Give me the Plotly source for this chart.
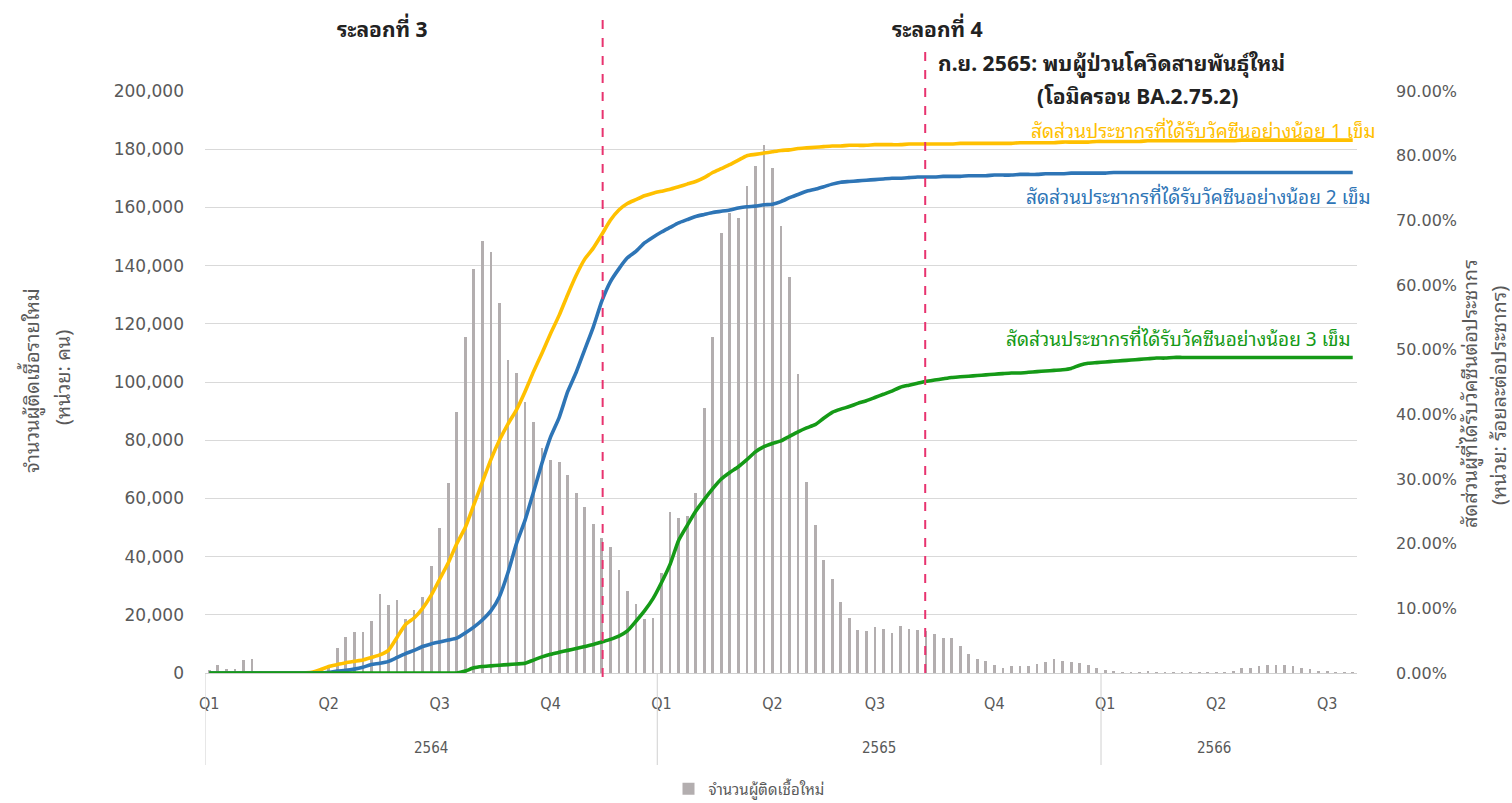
import plotly.graph_objects as go

# ---------------- data ----------------
# weekly new cases (thousands), week index 0 = first week of 2564
new_cases_k = [
    0.9, 2.6, 1.4, 1.4, 4.5, 4.8, 0.4, 0.2, 0.1, 0.1, 0.2, 0.2, 0.4, 0.8, 2.0,
    8.7, 12.5, 14.0, 14.2, 17.9, 27.0, 23.4, 25.0, 18.4, 21.6, 26.2, 36.9, 49.7,
    65.2, 89.8, 115.4, 139.0, 148.6, 144.8, 127.3, 107.6, 103.2, 93.2, 86.3, 77.2,
    73.2, 72.6, 68.0, 62.0, 57.0, 51.2, 46.3, 43.4, 35.3, 28.3, 23.7, 18.7, 18.8,
    34.4, 55.5, 53.2, 54.0, 62.0, 91.1, 115.6, 151.3, 158.0, 156.5, 167.5, 174.3,
    181.4, 173.4, 153.7, 136.0, 102.9, 65.7, 51.0, 39.0, 32.2, 24.4, 18.8, 14.8,
    14.5, 15.7, 15.1, 13.9, 16.3, 15.0, 14.9, 14.6, 13.3, 12.1, 12.0, 9.3, 6.4,
    4.7, 4.1, 2.7, 1.8, 2.4, 2.3, 2.5, 3.1, 3.9, 4.7, 4.1, 3.8, 3.3, 2.6, 1.8,
    0.9, 0.8, 0.2, 0.2, 0.1, 0.4, 0.1, 0.1, 0.1, 0.1, 0.1, 0.1, 0.1, 0.1, 0.1,
    0.8, 1.8, 1.6, 2.3, 2.6, 2.7, 2.7, 2.5, 1.8, 1.4, 0.8, 0.7, 0.3, 0.3, 0.3,
]

# % of population vaccinated (at least 1 / 2 / 3 doses)
dose1_pct = [
    0, 0, 0, 0, 0, 0, 0, 0, 0, 0, 0, 0, 0.1, 0.5, 1.0,
    1.3, 1.6, 1.8, 2.0, 2.4, 2.8, 3.5, 5.5, 7.5, 8.5, 10.0, 12.0, 14.5,
    17.0, 20.0, 22.5, 26.0, 29.5, 33.0, 36.0, 38.5, 40.7, 43.5, 46.6, 49.5,
    52.5, 55.3, 58.5, 61.5, 64.0, 65.7, 67.8, 70.0, 71.6, 72.6, 73.2, 73.8, 74.2,
    74.5, 74.8, 75.2, 75.6, 76.0, 76.6, 77.4, 78.0, 78.6, 79.3, 80.0, 80.2,
    80.4, 80.6, 80.8, 80.9, 81.1, 81.2, 81.3, 81.4, 81.5, 81.5, 81.6, 81.6,
    81.6, 81.7, 81.7, 81.7, 81.7, 81.8, 81.8, 81.8, 81.8, 81.8, 81.8, 81.9, 81.9,
    81.9, 81.9, 81.9, 81.9, 81.9, 82.0, 82.0, 82.0, 82.0, 82.0, 82.1, 82.1, 82.1,
    82.1, 82.2, 82.2, 82.2, 82.2, 82.2, 82.2, 82.3, 82.3, 82.3, 82.3, 82.3, 82.3,
    82.3, 82.3, 82.3, 82.3, 82.3, 82.4, 82.4, 82.4, 82.4, 82.4, 82.4, 82.4, 82.4,
    82.4, 82.4, 82.4, 82.4, 82.4, 82.4,
]
dose2_pct = [
    0, 0, 0, 0, 0, 0, 0, 0, 0, 0, 0, 0, 0, 0, 0.1,
    0.3, 0.4, 0.6, 0.9, 1.3, 1.5, 1.8, 2.4, 3.0, 3.5, 4.1, 4.5, 4.8,
    5.1, 5.4, 6.2, 7.1, 8.2, 9.6, 11.8, 15.5, 20.0, 23.6, 28.0, 32.5,
    36.5, 39.5, 43.5, 46.5, 50.0, 53.5, 57.5, 60.5, 62.5, 64.2, 65.2, 66.5, 67.4,
    68.2, 68.9, 69.6, 70.1, 70.6, 70.9, 71.2, 71.4, 71.6, 71.9, 72.1, 72.2,
    72.4, 72.5, 72.9, 73.5, 74.0, 74.5, 74.8, 75.2, 75.6, 75.9, 76.0, 76.1,
    76.2, 76.3, 76.4, 76.5, 76.5, 76.6, 76.7, 76.7, 76.7, 76.8, 76.8, 76.8, 76.9,
    76.9, 76.9, 77.0, 77.0, 77.0, 77.1, 77.1, 77.1, 77.2, 77.2, 77.2, 77.3, 77.3,
    77.3, 77.3, 77.3, 77.4, 77.4, 77.4, 77.4, 77.4, 77.4, 77.4, 77.4, 77.4, 77.4,
    77.4, 77.4, 77.4, 77.4, 77.4, 77.4, 77.4, 77.4, 77.4, 77.4, 77.4, 77.4, 77.4,
    77.4, 77.4, 77.4, 77.4, 77.4, 77.4,
]
dose3_pct = [
    0, 0, 0, 0, 0, 0, 0, 0, 0, 0, 0, 0, 0, 0, 0,
    0, 0, 0, 0, 0, 0, 0, 0, 0, 0, 0, 0, 0,
    0, 0, 0.3, 0.8, 1.0, 1.1, 1.2, 1.3, 1.4, 1.5, 2.0, 2.5,
    2.9, 3.2, 3.5, 3.8, 4.1, 4.4, 4.8, 5.2, 5.7, 6.5, 8.0, 9.6, 11.5,
    14.0, 16.8, 20.5, 22.8, 25.0, 26.8, 28.5, 30.0, 31.0, 31.9, 33.0, 34.2,
    35.0, 35.5, 35.9, 36.6, 37.3, 37.9, 38.4, 39.4, 40.3, 40.8, 41.2, 41.7,
    42.1, 42.6, 43.1, 43.6, 44.2, 44.5, 44.8, 45.1, 45.3, 45.5, 45.7, 45.8, 45.9,
    46.0, 46.1, 46.2, 46.3, 46.4, 46.4, 46.5, 46.6, 46.7, 46.8, 46.9, 47.1, 47.6,
    47.9, 48.0, 48.1, 48.2, 48.3, 48.4, 48.5, 48.6, 48.7, 48.7, 48.8, 48.8, 48.8,
    48.8, 48.8, 48.8, 48.8, 48.8, 48.8, 48.8, 48.8, 48.8, 48.8, 48.8, 48.8, 48.8,
    48.8, 48.8, 48.8, 48.8, 48.8, 48.8,
]

quarter_labels = ["Q1", "Q2", "Q3", "Q4", "Q1", "Q2", "Q3", "Q4", "Q1", "Q2", "Q3"]
quarter_weeks = [0, 14, 27, 40, 53, 66, 78, 92, 105, 118, 131]
year_labels = ["2564", "2565", "2566"]
year_centers = [26, 78.5, 117.7]
year_bounds = [-0.5, 52.5, 104.5]

wave_lines = [46.1, 83.9]  # week index of the dashed event lines

pct_ticks = list(range(0, 91, 10))
pct_tick_text = ["%.2f%%" % v for v in pct_ticks]
case_ticks = list(range(0, 200001, 20000))

series_names = [
    "จำนวนผู้ติดเชื้อใหม่",
    "สัดส่วนประชากรที่ได้รับวัคซีนอย่างน้อย 1 เข็ม",
    "สัดส่วนประชากรที่ได้รับวัคซีนอย่างน้อย 2 เข็ม",
    "สัดส่วนประชากรที่ได้รับวัคซีนอย่างน้อย 3 เข็ม",
]

# ---------------- figure ----------------
weeks = list(range(len(new_cases_k)))
cases = [v * 1000 for v in new_cases_k]

THAI = ("Tahoma, Leelawadee UI, Noto Sans Thai Looped, Loma, Garuda, "
        "Noto Sans Thai, DejaVu Sans, sans-serif")
GREY_TXT = "#595959"
YEL, BLU, GRN = "#FFC000", "#2E75B6", "#159A17"
PINK = "#E8336F"

W, H = 1512, 803
ML, MR, MT, MB = 205, 155, 91, 130
PW, PH = W - ML - MR, H - MT - MB


def px_to_paper(px, py):
    return (px - ML) / PW, (H - MB - py) / PH


fig = go.Figure()
fig.add_trace(go.Bar(
    x=weeks, y=cases, name=series_names[0], width=0.32,
    marker=dict(color="#B3AEAF", line=dict(width=0)),
    yaxis="y",
))
for vals, col, nm in [(dose1_pct, YEL, series_names[1]),
                      (dose2_pct, BLU, series_names[2]),
                      (dose3_pct, GRN, series_names[3])]:
    fig.add_trace(go.Scatter(
        x=weeks, y=vals, name=nm, mode="lines", yaxis="y2", showlegend=False,
        line=dict(color=col, width=3.6, shape="spline", smoothing=0.5),
    ))

shapes = []
for xb in year_bounds:
    shapes.append(dict(type="line", xref="x", yref="paper", x0=xb, x1=xb,
                       y0=0, y1=px_to_paper(0, 765)[1], line=dict(color="#D0D0D0", width=1)))
shapes.append(dict(type="line", xref="x", yref="paper", x0=wave_lines[0], x1=wave_lines[0],
                   y0=px_to_paper(0, 677)[1], y1=px_to_paper(0, 15)[1],
                   line=dict(color=PINK, width=2, dash="dash")))
shapes.append(dict(type="line", xref="x", yref="paper", x0=wave_lines[1], x1=wave_lines[1],
                   y0=0.0, y1=px_to_paper(0, 50)[1],
                   line=dict(color=PINK, width=2, dash="dash")))

ann = []
for lab, xc in zip(year_labels, year_centers):
    ann.append(dict(x=xc, y=px_to_paper(0, 748)[1], xref="x", yref="paper", text=lab,
                    showarrow=False, yanchor="middle",
                    font=dict(family="DejaVu Sans Condensed, sans-serif", size=15, color=GREY_TXT)))

text_items = [
    ("<b>ระลอกที่ 3</b>", 382, 28, "center", 21, "#222222"),
    ("<b>ระลอกที่ 4</b>", 937, 28, "center", 21, "#222222"),
    ("<b>ก.ย. 2565: พบผู้ป่วนโควิดสายพันธุ์ใหม่</b>", 936, 62, "left", 21, "#222222"),
    ("<b>(โอมิครอน BA.2.75.2)</b>", 1137, 95, "center", 21, "#222222"),
    (series_names[1], 1378, 129, "right", 19, YEL),
    (series_names[2], 1373, 195, "right", 19, BLU),
    (series_names[3], 1353, 337, "right", 19, GRN),
]
for t, px, py, al, sz, col in text_items:
    xp, yp = px_to_paper(px, py)
    ann.append(dict(x=xp, y=yp, xref="paper", yref="paper", text=t, showarrow=False,
                    xanchor=al, yanchor="middle",
                    font=dict(family=THAI, size=sz, color=col)))

# axis titles (rotated)
axis_titles = [
    ("จำนวนผู้ติดเชื้อรายใหม่", 30, 381, 20),
    ("(หน่วย: คน)", 61, 378, 20),
    ("สัดส่วนผู้ที่ได้รับวัคซีนต่อประชากร", 1468, 394, 20),
    ("(หน่วย: ร้อยละต่อประชากร)", 1497, 396, 20),
]
for ln, px, py, sz in axis_titles:
    xp, yp = px_to_paper(px, py)
    ann.append(dict(x=xp, y=yp, xref="paper", yref="paper", text=ln, showarrow=False,
                    textangle=-90, xanchor="center", yanchor="middle",
                    font=dict(family=THAI, size=sz, color=GREY_TXT)))

fig.update_layout(
    width=W, height=H,
    margin=dict(l=ML, r=MR, t=MT, b=MB, autoexpand=False),
    paper_bgcolor="white", plot_bgcolor="white",
    bargap=0,
    font=dict(family=THAI, color=GREY_TXT),
    xaxis=dict(
        range=[-0.5, 134.5], tickmode="array", tickvals=quarter_weeks, ticktext=quarter_labels,
        showgrid=False, zeroline=False, showline=True, linecolor="#D0D0D0", linewidth=1,
        ticks="", ticklabelstandoff=16,
        tickfont=dict(family="DejaVu Sans Condensed, sans-serif", size=16, color=GREY_TXT),
    ),
    yaxis=dict(
        range=[0, 200000], tickmode="array", tickvals=case_ticks, tickformat=",d",
        showgrid=True, gridcolor="#D9D9D9", gridwidth=1, zeroline=False,
        showline=False, ticks="", ticklabelstandoff=20,
        tickfont=dict(family="DejaVu Sans, sans-serif", size=17, color=GREY_TXT),
    ),
    yaxis2=dict(
        range=[0, 90], tickmode="array", tickvals=pct_ticks, ticktext=pct_tick_text,
        overlaying="y", side="right", showgrid=False, zeroline=False, showline=False,
        ticks="", ticklabelstandoff=38,
        tickfont=dict(family="DejaVu Sans, sans-serif", size=16, color=GREY_TXT),
    ),
    showlegend=True,
    legend=dict(orientation="h", xref="container", yref="container",
                x=749 / W, y=1 - 789 / H, xanchor="center", yanchor="middle",
                font=dict(family=THAI, size=15, color=GREY_TXT), bgcolor="rgba(0,0,0,0)"),
    shapes=shapes, annotations=ann,
)

fig.write_html(
    "out.html",
    config={"displayModeBar": False},
    post_script="document.body.style.margin='0';document.body.style.overflow='hidden';",
)
